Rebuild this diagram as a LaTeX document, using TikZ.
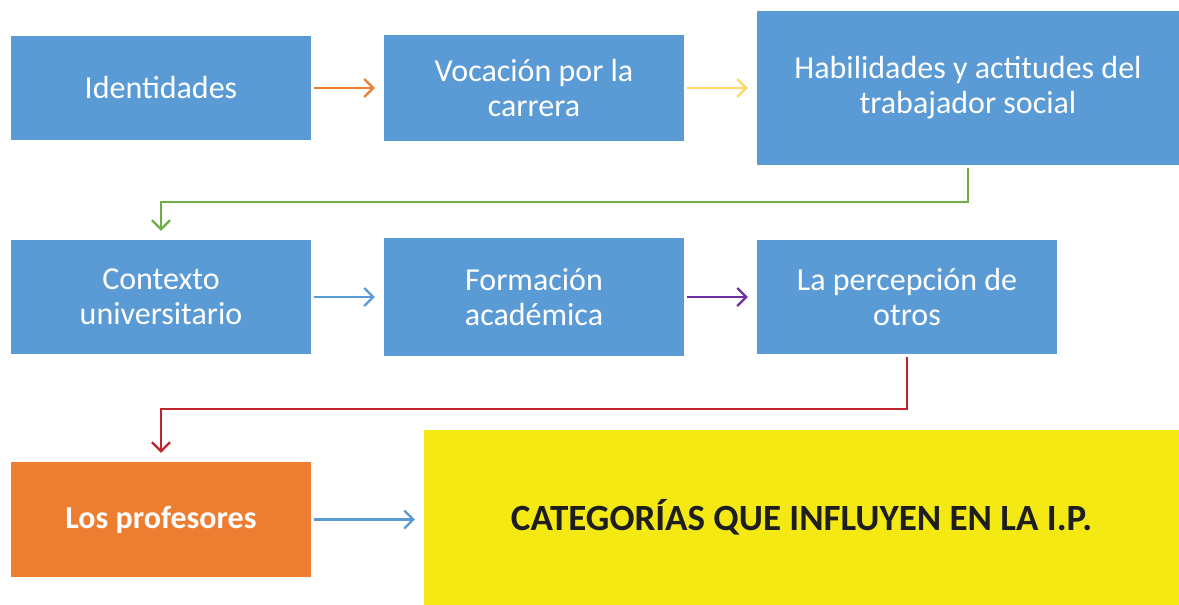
\documentclass[tikz,border=0pt]{standalone}
\usepackage{fontspec}
\setmainfont{Carlito}
\usetikzlibrary{arrows.meta}
\definecolor{boxblue}{HTML}{5B9BD5}
\definecolor{boxorange}{HTML}{ED7D31}
\definecolor{boxyellow}{HTML}{F4E913}
\definecolor{arrorange}{HTML}{ED7D31}
\definecolor{arryellow}{HTML}{FFD966}
\definecolor{arrgreen}{HTML}{70AD47}
\definecolor{arrblue}{HTML}{5B9BD5}
\definecolor{arrpurple}{HTML}{7030A0}
\definecolor{arrred}{HTML}{C0242C}
\tikzset{
  x=1pt, y=-1pt,
  box/.style={draw=none, fill=boxblue, text=white, align=center, inner sep=0pt,
    font=\fontsize{32}{35}\selectfont},
  conn/.style={line width=2.2pt, -{Straight Barb[length=9pt,width=18pt,line width=2.2pt]},
    shorten <=3pt, shorten >=9pt}
}
\begin{document}
\begin{tikzpicture}
\useasboundingbox (0,0) rectangle (1179,605);
\node[box, minimum width=300pt, minimum height=104pt] (ident) at (161,88) {Identidades};
\node[box, minimum width=300pt, minimum height=106pt] (voc) at (534,88) {Vocación por la\\carrera};
\node[box, minimum width=422pt, minimum height=154pt] (hab) at (968,88) {Habilidades y actitudes del\\trabajador social};
\node[box, minimum width=300pt, minimum height=114pt] (ctx) at (161,297) {Contexto\\universitario};
\node[box, minimum width=300pt, minimum height=118pt] (form) at (534,297) {Formación\\académica};
\node[box, minimum width=300pt, minimum height=114pt] (perc) at (907,297) {La percepción de\\otros};
\node[box, fill=boxorange, minimum width=300pt, minimum height=115pt, font=\fontsize{32}{35}\selectfont\bfseries] (prof) at (161,519.5) {Los profesores};
\node[box, fill=boxyellow, text={rgb,255:red,30;green,30;blue,30}, minimum width=755pt, minimum height=175pt, font=\fontsize{37}{40}\selectfont\bfseries] (cat) at (801.5,517.5) {CATEGORÍAS QUE INFLUYEN EN LA I.P.};
\draw[conn, arrorange] (ident.east) -- (voc.west);
\draw[conn, arryellow] (voc.east) -- (hab.west |- voc.east);
\draw[conn, arrgreen] (hab.south) -- ++(0,37) -| (ctx.north);
\draw[conn, arrblue] (ctx.east) -- (form.west);
\draw[conn, arrpurple] (form.east) -- (perc.west);
\draw[conn, arrred] (perc.south) -- ++(0,55) -| (prof.north);
\draw[conn, arrblue] (prof.east) -- (cat.west |- prof.east);
\end{tikzpicture}
\end{document}
